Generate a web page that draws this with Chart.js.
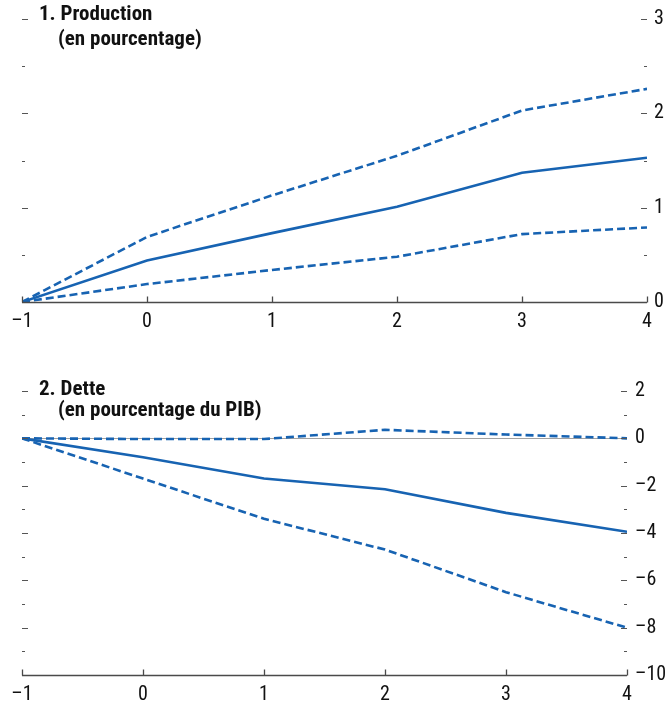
<!DOCTYPE html>
<html>
<head>
<meta charset="utf-8">
<script src="https://cdn.jsdelivr.net/npm/chart.js@4.4.0/dist/chart.umd.min.js"></script>
<style>
  body { margin: 0; background: #fff; width: 670px; height: 710px; overflow: hidden; }
  .wrap { position: absolute; left: 0; }
  .title {
    position: absolute; font-family: "Liberation Sans Narrow", "Roboto Condensed", "DejaVu Sans Condensed", sans-serif;
    font-weight: bold; font-size: 21px; line-height: 22px; color: #111; white-space: nowrap;
  }
</style>
</head>
<body>
<div class="wrap" style="top:0"><canvas id="prod" width="670" height="345"></canvas></div>
<div class="wrap" style="top:355px"><canvas id="debt" width="670" height="355"></canvas></div>
<div class="title" style="left:39px;top:2px">1. Production</div>
<div class="title" style="left:58px;top:27px">(en pourcentage)</div>
<div class="title" style="left:39px;top:377px">2. Dette</div>
<div class="title" style="left:58px;top:398px">(en pourcentage du PIB)</div>
<script>
// Years relative to the shock
const years = [-1, 0, 1, 2, 3, 4];

// 1. Production (percent)
const prodCentral = [0, 0.44, 0.73, 1.01, 1.37, 1.53];
const prodUpper = [0, 0.69, 1.13, 1.55, 2.03, 2.26];
const prodLower = [0, 0.19, 0.34, 0.48, 0.72, 0.79];

// 2. Dette (percent of GDP)
const debtCentral = [0, -0.8, -1.7, -2.15, -3.15, -3.95];
const debtUpper = [0, -0.03, -0.03, 0.36, 0.16, 0.0];
const debtLower = [0, -1.7, -3.4, -4.7, -6.5, -8.0];

const BLUE = '#1763b2';
const FONT = '"Liberation Sans Narrow", "Roboto Condensed", "DejaVu Sans Condensed", sans-serif';
Chart.defaults.font.family = FONT;
Chart.defaults.font.size = 20;
Chart.defaults.color = '#111';

const dash = s => String(s).replace('-', '\u2013');
const pts = vals => years.map((x, i) => ({ x, y: vals[i] }));

// draws the axis line, inward ticks and optional zero line
const axesPlugin = {
    id: 'axesMarks',
    beforeDatasetsDraw(chart, args, opts) {
        if (!opts.zeroLine) return;
        const { ctx, chartArea, scales } = chart;
        const y0 = Math.round(scales.y.getPixelForValue(0)) + 0.5;
        ctx.save();
        ctx.strokeStyle = '#a0a0a0';
        ctx.lineWidth = 1;
        ctx.beginPath();
        ctx.moveTo(chartArea.left, y0);
        ctx.lineTo(chartArea.right, y0);
        ctx.stroke();
        ctx.restore();
    },
    afterDraw(chart, args, opts) {
        const { ctx, chartArea, scales } = chart;
        const xs = scales.x, ys = scales.y;
        ctx.save();
        ctx.strokeStyle = '#4a4a4a';
        ctx.lineWidth = 1.3;
        const yb = Math.round(chartArea.bottom) + 0.5;
        ctx.beginPath();
        ctx.moveTo(chartArea.left, yb);
        ctx.lineTo(chartArea.right, yb);
        xs.ticks.forEach(t => {
            const px = Math.round(xs.getPixelForValue(t.value)) + 0.5;
            ctx.moveTo(px, yb);
            ctx.lineTo(px, yb - 6);
        });
        ctx.stroke();
        ctx.lineWidth = 1;
        ctx.strokeStyle = '#555';
        ctx.beginPath();
        ys.ticks.forEach(t => {
            if (t.value === ys.min) return;
            const py = Math.round(ys.getPixelForValue(t.value)) + 0.5;
            const len = opts.isMajor(t.value) ? 6 : 3;
            ctx.moveTo(chartArea.left, py);
            ctx.lineTo(chartArea.left + len, py);
            ctx.moveTo(chartArea.right, py);
            ctx.lineTo(chartArea.right - len, py);
        });
        ctx.stroke();
        ctx.restore();
    }
};

function lineSet(data, dashed) {
    return {
        data: pts(data),
        borderColor: BLUE,
        borderWidth: 2.6,
        borderDash: dashed ? [8, 4] : [],
        pointRadius: 0,
        tension: 0,
        fill: false
    };
}

function makeChart(id, cfg) {
    return new Chart(document.getElementById(id), {
        type: 'line',
        data: {
            datasets: [
                lineSet(cfg.upper, true),
                lineSet(cfg.lower, true),
                lineSet(cfg.central, false)
            ]
        },
        options: {
            responsive: false,
            animation: false,
            layout: { padding: { left: 22, top: cfg.top, right: 0, bottom: 0 } },
            plugins: {
                legend: { display: false },
                tooltip: { enabled: false },
                axesMarks: { isMajor: cfg.isMajor, zeroLine: cfg.zeroLine }
            },
            scales: {
                x: {
                    type: 'linear',
                    min: -1, max: 4,
                    grid: { display: false, drawTicks: false },
                    border: { display: false },
                    ticks: { stepSize: 1, padding: 8, autoSkip: false, maxRotation: 0,
                        callback: v => dash(v) },
                    afterFit: s => { s.height = cfg.xHeight; }
                },
                y: {
                    position: 'right',
                    min: cfg.min, max: cfg.max,
                    grid: { display: false, drawTicks: false },
                    border: { display: false },
                    ticks: { stepSize: cfg.step, padding: cfg.labelPad, autoSkip: false,
                        callback: v => cfg.isMajor(v) ? dash(v) : '' },
                    afterFit: s => { s.width = cfg.yWidth; }
                }
            }
        },
        plugins: [axesPlugin]
    });
}

makeChart('prod', {
    central: prodCentral, upper: prodUpper, lower: prodLower,
    min: 0, max: 3, step: 0.5,
    isMajor: v => Number.isInteger(v),
    top: 18, xHeight: 43, yWidth: 23, labelPad: 7, zeroLine: false
});

makeChart('debt', {
    central: debtCentral, upper: debtUpper, lower: debtLower,
    min: -10, max: 2, step: 1,
    isMajor: v => v % 2 === 0,
    top: 36, xHeight: 35, yWidth: 43, labelPad: 8, zeroLine: true
});
</script>
</body>
</html>
